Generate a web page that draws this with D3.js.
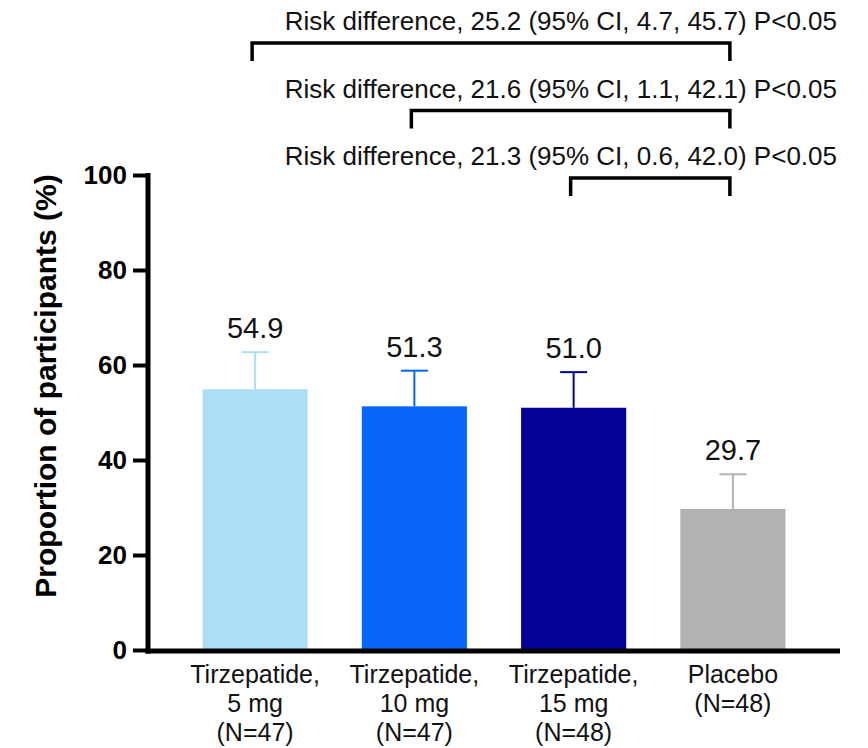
<!DOCTYPE html>
<html>
<head>
<meta charset="utf-8">
<script src="https://cdn.jsdelivr.net/npm/d3@7"></script>
<style>
  html, body { margin: 0; padding: 0; background: #fff; }
  svg { display: block; font-family: "Liberation Sans", Arial, sans-serif; }
</style>
</head>
<body>
<svg id="chart" width="868" height="748"></svg>
<script>
// ---- data ----
const categories = ["Tirzepatide 5 mg", "Tirzepatide 10 mg", "Tirzepatide 15 mg", "Placebo"];
const categoryLabels = [
  ["Tirzepatide,", "5 mg", "(N=47)"],
  ["Tirzepatide,", "10 mg", "(N=47)"],
  ["Tirzepatide,", "15 mg", "(N=48)"],
  ["Placebo", "(N=48)"]
];
const values = [54.9, 51.3, 51.0, 29.7];
const valueLabels = ["54.9", "51.3", "51.0", "29.7"];
const errorUpper = [62.7, 58.8, 58.5, 37.0];
const barColors = ["#acdef7", "#0766f7", "#020298", "#b2b2b5"];
const yTicks = [0, 20, 40, 60, 80, 100];
const yTitle = "Proportion of participants (%)";
const compFrom = ["Tirzepatide 5 mg", "Tirzepatide 10 mg", "Tirzepatide 15 mg"];
const compTo = ["Placebo", "Placebo", "Placebo"];
const compText = [
  "Risk difference, 25.2 (95% CI, 4.7, 45.7) P<0.05",
  "Risk difference, 21.6 (95% CI, 1.1, 42.1) P<0.05",
  "Risk difference, 21.3 (95% CI, 0.6, 42.0) P<0.05"
];

// ---- layout ----
const svg = d3.select("#chart");
const axisX = 148;
const x = d3.scaleBand().domain(categories).range([150, 838]).paddingInner(0.34).paddingOuter(0.33);
const y = d3.scaleLinear().domain([0, 100]).range([650, 175]);

// bars
svg.append("g").selectAll("rect").data(categories).join("rect")
  .attr("x", d => x(d))
  .attr("width", x.bandwidth())
  .attr("y", (d, i) => y(values[i]))
  .attr("height", (d, i) => y(0) - y(values[i]))
  .attr("fill", (d, i) => barColors[i]);

// error bars (upper only)
const eb = svg.append("g");
categories.forEach((c, i) => {
  const cx = x(c) + x.bandwidth() / 2;
  eb.append("line").attr("x1", cx).attr("x2", cx)
    .attr("y1", y(values[i])).attr("y2", y(errorUpper[i]))
    .attr("stroke", barColors[i]).attr("stroke-width", 2);
  eb.append("line").attr("x1", cx - 13.5).attr("x2", cx + 13.5)
    .attr("y1", y(errorUpper[i])).attr("y2", y(errorUpper[i]))
    .attr("stroke", barColors[i]).attr("stroke-width", 2);
  svg.append("text").attr("x", cx).attr("y", y(errorUpper[i]) - 14)
    .attr("text-anchor", "middle").attr("font-size", 29).attr("fill", "#111")
    .text(valueLabels[i]);
});

// y axis
const yAxis = d3.axisLeft(y).tickValues(yTicks).tickSize(15).tickSizeOuter(0).tickPadding(6);
const gy = svg.append("g").attr("transform", `translate(${axisX},0)`).call(yAxis);
gy.select(".domain").attr("stroke", "#000").attr("stroke-width", 5)
  .attr("d", `M0,${y(100) - 2}V${y(0) + 3.5}`);
gy.selectAll(".tick line").attr("stroke", "#000").attr("stroke-width", 4);
gy.selectAll(".tick text").attr("font-family", "Liberation Sans, Arial, sans-serif")
  .attr("font-size", 26).attr("font-weight", "bold").attr("fill", "#000");

// x axis
const xAxis = d3.axisBottom(x).tickSize(0).tickSizeOuter(0).tickFormat("");
const gx = svg.append("g").attr("transform", `translate(0,${y(0) + 1})`).call(xAxis);
gx.select(".domain").attr("stroke", "#000").attr("stroke-width", 5)
  .attr("d", `M${axisX - 2.5},0H840`);
gx.selectAll(".tick").each(function (d) {
  const i = categories.indexOf(d);
  const t = d3.select(this).select("text").text(null)
    .attr("y", 0).attr("dy", null)
    .attr("font-family", "Liberation Sans, Arial, sans-serif")
    .attr("font-size", 25).attr("fill", "#111");
  categoryLabels[i].forEach((line, k) => {
    t.append("tspan").attr("x", 0).attr("y", 32 + k * 29).text(line);
  });
});

// y title
svg.append("text")
  .attr("transform", `translate(56,${386}) rotate(-90)`)
  .attr("text-anchor", "middle").attr("font-size", 30).attr("font-weight", "bold").attr("fill", "#000")
  .text(yTitle);

// comparison brackets
compText.forEach((txt, i) => {
  const base = 30 + i * 67.5;
  svg.append("text").attr("x", 837).attr("y", base).attr("text-anchor", "end")
    .attr("font-size", 26).attr("fill", "#111").text(txt);
  const x1 = x(compFrom[i]) + x.bandwidth() / 2 - 3;
  const x2 = x(compTo[i]) + x.bandwidth() / 2 - 3;
  const yb = base + 13;
  svg.append("path")
    .attr("d", `M${x1},${yb + 18}V${yb}H${x2}V${yb + 18}`)
    .attr("fill", "none").attr("stroke", "#000").attr("stroke-width", 3.5)
    .attr("stroke-linejoin", "miter");
});
</script>
</body>
</html>
